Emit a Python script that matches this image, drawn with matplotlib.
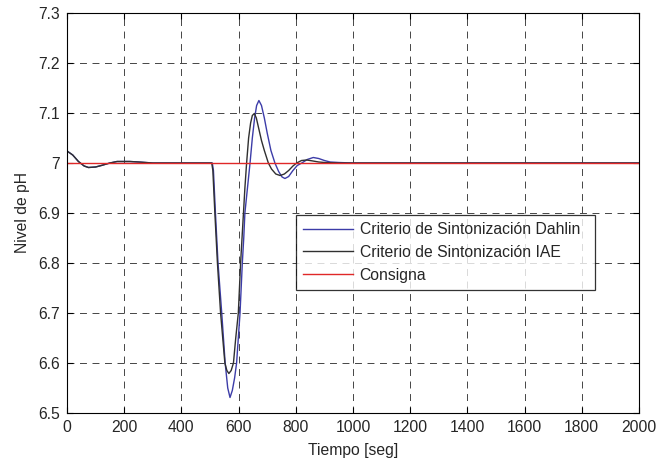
import numpy as np
import matplotlib
matplotlib.use("Agg")
import matplotlib.pyplot as plt

plt.rcParams['font.family'] = ['Liberation Sans', 'DejaVu Sans']
plt.rcParams['lines.scale_dashes'] = False

# Criterio de Sintonizacion Dahlin (azul)
t_dahlin = [0, 20, 40, 60, 75, 100, 120, 150, 175, 220, 250, 300, 500, 508, 512, 519, 528,
            541, 553, 562, 570, 578, 586, 593, 605, 613, 618, 622, 631, 640, 648, 656,
            663, 671, 680, 690, 700, 713, 727, 740, 752, 762, 775, 790, 805, 821, 840,
            861, 880, 900, 920, 950, 1000, 2000]
ph_dahlin = [7.024, 7.016, 7.003, 6.994, 6.991, 6.992, 6.995, 7.0, 7.003, 7.003, 7.002, 7.0,
             7.0, 7.0, 6.985, 6.9, 6.8, 6.7, 6.6, 6.55, 6.531, 6.545, 6.57, 6.6, 6.7,
             6.8, 6.85, 6.9, 6.95, 7.0, 7.05, 7.09, 7.115, 7.125, 7.115, 7.09, 7.06,
             7.025, 7.0, 6.983, 6.972, 6.969, 6.973, 6.985, 6.995, 7.0, 7.007, 7.011,
             7.009, 7.005, 7.002, 7.001, 7.0, 7.0]

# Criterio de Sintonizacion IAE (gris oscuro)
t_iae = [0, 20, 40, 60, 75, 100, 120, 150, 175, 220, 250, 300, 500, 506, 510, 517, 526,
         537, 552, 559, 566, 574, 582, 590, 599, 607, 612, 617, 622, 628, 635, 642,
         648, 655, 662, 670, 680, 690, 704, 715, 730, 745, 760, 775, 790, 803, 820,
         838, 860, 880, 900, 950, 2000]
ph_iae = [7.024, 7.016, 7.003, 6.994, 6.991, 6.992, 6.995, 7.0, 7.003, 7.003, 7.002, 7.0,
          7.0, 7.0, 6.985, 6.9, 6.8, 6.7, 6.6, 6.585, 6.579, 6.585, 6.6, 6.65, 6.7,
          6.8, 6.85, 6.9, 6.95, 7.0, 7.05, 7.08, 7.095, 7.099, 7.09, 7.07, 7.045,
          7.025, 7.0, 6.988, 6.978, 6.975, 6.978, 6.985, 6.994, 7.0, 7.005, 7.006,
          7.004, 7.002, 7.001, 7.0, 7.0]

# Consigna
t_consigna = [0, 2000]
ph_consigna = [7.0, 7.0]

labels = ['Criterio de Sintonización Dahlin', 'Criterio de Sintonización IAE', 'Consigna']
yticks = [6.5, 6.6, 6.7, 6.8, 6.9, 7.0, 7.1, 7.2, 7.3]
ytick_labels = ['6.5', '6.6', '6.7', '6.8', '6.9', '7', '7.1', '7.2', '7.3']

fig = plt.figure(figsize=(6.57, 4.59), dpi=100)
ax = fig.add_axes([67/657, 46/459, 572/657, 400/459])

ax.plot(t_dahlin, ph_dahlin, color='#3c3ca8', lw=1.0, label=labels[0])
ax.plot(t_iae, ph_iae, color='#303030', lw=1.0, label=labels[1])
ax.plot(t_consigna, ph_consigna, color='#e02828', lw=1.0, label=labels[2])

ax.set_xlim(0, 2000)
ax.set_ylim(6.5, 7.3)
ax.set_xticks(np.arange(0, 2001, 200))
ax.set_yticks(yticks)
ax.set_yticklabels(ytick_labels)
ax.tick_params(direction='in', top=True, right=True, length=4, labelsize=11.3,
               labelcolor='#262626', pad=5)
ax.grid(True, color='#454545', linestyle=(0, (5, 4)), lw=0.7)
for s in ax.spines.values():
    s.set_linewidth(0.8)

ax.set_xlabel('Tiempo [seg]', fontsize=11.3, labelpad=6, color='#262626')
ax.set_ylabel('Nivel de pH', fontsize=11.3, labelpad=6, color='#262626')

leg = ax.legend(loc='upper left', bbox_to_anchor=(0.4003, 0.3075, 0.5227, 0.1875), mode='expand',
                fontsize=11.3, frameon=True, fancybox=False, edgecolor='black',
                handlelength=3.2, handletextpad=0.4, borderaxespad=0, labelspacing=0.5,
                borderpad=0.45)
leg.get_frame().set_linewidth(0.9)
for txt in leg.get_texts():
    txt.set_color('#262626')

fig.savefig('out.png', dpi=100)
